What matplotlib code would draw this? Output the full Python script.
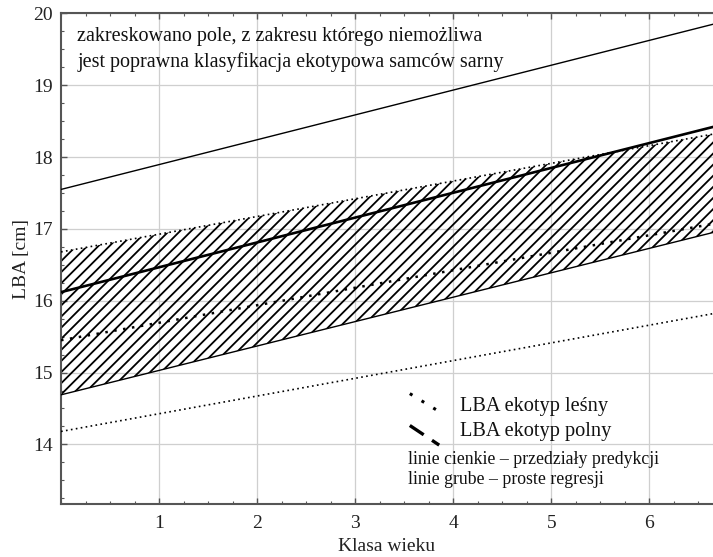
import matplotlib
matplotlib.use("Agg")
import matplotlib.pyplot as plt
from matplotlib.ticker import MultipleLocator
from matplotlib.lines import Line2D

# age class range covered by the lines
klasa = [0.0, 6.65]

# ekotyp polny (field) - regression and prediction interval
polny_reg = [16.12, 18.42]
polny_gora = [17.55, 19.85]
polny_dol = [14.69, 16.95]

# ekotyp lesny (forest) - regression and prediction interval
lesny_reg = [15.45, 17.07]
lesny_gora = [16.68, 18.32]
lesny_dol = [14.18, 15.82]

plt.rcParams['font.family'] = ['Liberation Serif', 'DejaVu Serif']
plt.rcParams['hatch.linewidth'] = 1.3

fig = plt.figure(figsize=(7.13, 5.57), dpi=100)
ax = fig.add_axes([0.0856, 0.0952, 1 - 0.0856, 0.9758 - 0.0952])

# hatched region where classification is impossible
ax.fill_between(klasa, polny_dol, lesny_gora, facecolor='none',
                edgecolor='black', hatch='///', linewidth=0, zorder=2)

ax.plot(klasa, polny_gora, color='black', lw=1.0, zorder=3)
ax.plot(klasa, polny_dol, color='black', lw=1.0, zorder=3)
ax.plot(klasa, polny_reg, color='black', lw=1.9, zorder=3)

ax.plot(klasa, lesny_gora, color='black', lw=1.2, ls=(0, (1, 2)), zorder=3)
ax.plot(klasa, lesny_dol, color='black', lw=1.2, ls=(0, (1, 2)), zorder=3)
ax.plot(klasa, lesny_reg, color='black', lw=1.8, ls=(0, (1, 2.6)), zorder=3)

ax.set_xlim(0, 6.65)
ax.set_ylim(13.17, 20)
ax.xaxis.set_minor_locator(MultipleLocator(0.25))
ax.yaxis.set_minor_locator(MultipleLocator(0.25))
ax.set_xticks([1, 2, 3, 4, 5, 6])
ax.set_yticks([14, 15, 16, 17, 18, 19, 20])
ax.grid(True, which='major', color='#cfcfcf', lw=0.9, zorder=0)

ax.tick_params(which='both', direction='in', top=True, right=False,
               colors='#555555', labelcolor='#222222', labelsize=14)
ax.tick_params(which='major', length=4, width=1)
ax.tick_params(which='minor', length=2.5, width=0.8)
ax.tick_params(axis='x', pad=8)
ax.tick_params(axis='y', pad=6)
for s in ['left', 'bottom', 'top']:
    ax.spines[s].set_color('#555555')
    ax.spines[s].set_linewidth(1.5)
ax.spines['right'].set_visible(False)

ax.set_xlabel('Klasa wieku', fontsize=14, color='#222222', labelpad=4)
ax.set_ylabel('LBA [cm]', fontsize=14, color='#222222', labelpad=2)

ax.text(0.025, 0.972, 'zakreskowano pole, z zakresu którego niemożliwa\n'
        'jest poprawna klasyfikacja ekotypowa samców sarny',
        transform=ax.transAxes, fontsize=14.5, va='top', ha='left',
        linespacing=1.42, color='#111111')

# legend
ax.add_line(Line2D([0.535, 0.578], [0.225, 0.19], transform=ax.transAxes,
                   color='black', lw=2.2, ls=(0, (1, 3.5))))
ax.add_line(Line2D([0.535, 0.58], [0.16, 0.12], transform=ax.transAxes,
                   color='black', lw=2.4, ls=(0, (5, 3))))
ax.text(0.612, 0.198, 'LBA ekotyp leśny', transform=ax.transAxes,
        fontsize=14.7, va='center', ha='left', color='#111111')
ax.text(0.612, 0.147, 'LBA ekotyp polny', transform=ax.transAxes,
        fontsize=14.7, va='center', ha='left', color='#111111')
ax.text(0.532, 0.090, 'linie cienkie – przedziały predykcji',
        transform=ax.transAxes, fontsize=12.8, va='center', ha='left',
        color='#111111')
ax.text(0.532, 0.049, 'linie grube – proste regresji',
        transform=ax.transAxes, fontsize=12.8, va='center', ha='left',
        color='#111111')

fig.savefig('out.png', dpi=100)
